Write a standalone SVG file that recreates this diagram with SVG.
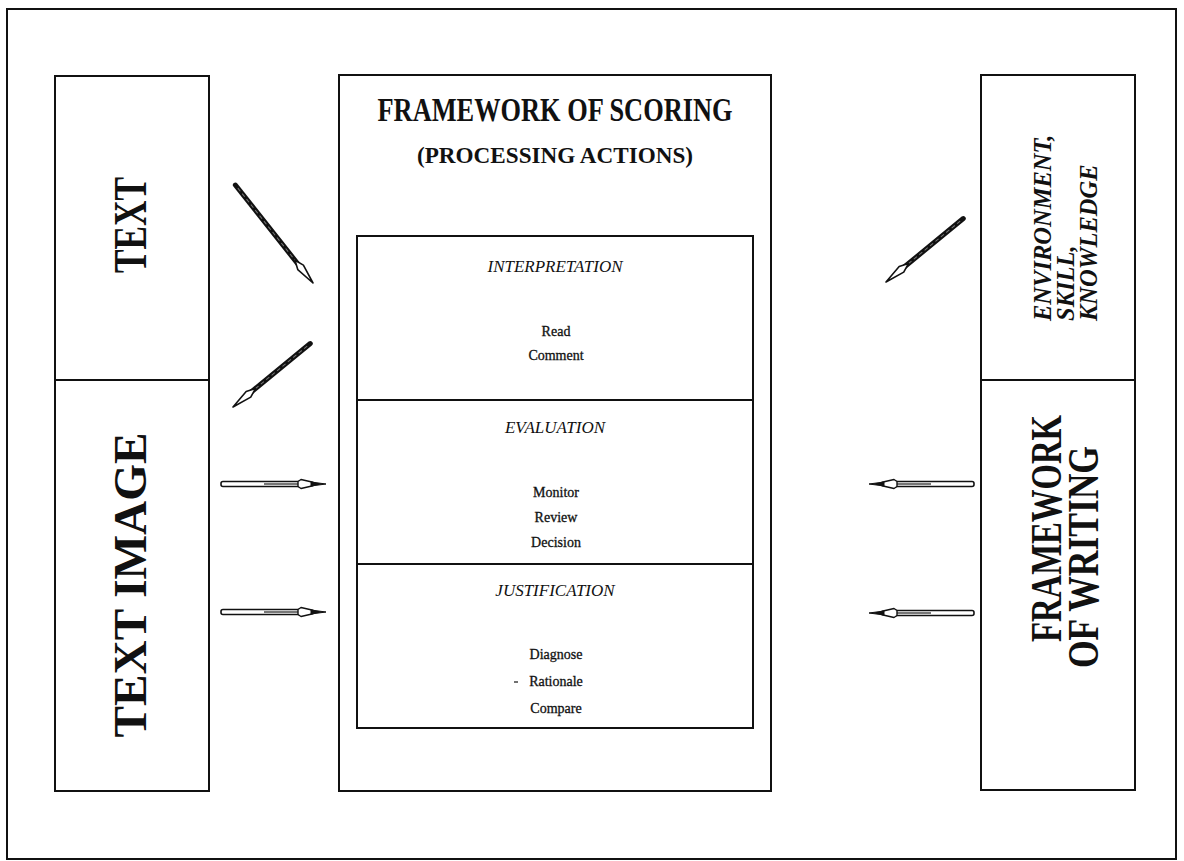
<svg xmlns="http://www.w3.org/2000/svg" xmlns:xlink="http://www.w3.org/1999/xlink" width="1184" height="861" viewBox="0 0 1184 861">
  <style>
    .frame { fill: none; stroke: #111; stroke-width: 2; }
    .box { fill: #fff; stroke: #111; stroke-width: 2; }
    .rule { stroke: #111; stroke-width: 1.8; }
    .serif { font-family: "Liberation Serif", "Times New Roman", serif; fill: #111; }
    .title { font-weight: bold; font-size: 33px; }
    .subtitle { font-weight: bold; font-size: 24px; }
    .big { font-weight: bold; font-size: 47px; }
    .side { font-weight: bold; font-size: 45px; }
    .ital { font-weight: bold; font-style: italic; font-size: 24.5px; }
    .phase { font-style: italic; font-size: 17px; }
    .item { font-size: 14px; stroke: #111; stroke-width: 0.3; }
  </style>
  <defs>
    <!-- pen-shaped arrow, tip at origin, pointing along +x -->
    <g id="pen">
      <line x1="-100" y1="0" x2="-24" y2="0" stroke="#111" stroke-width="5" stroke-linecap="round"/>
      <line x1="-96" y1="0" x2="-28" y2="0" stroke="#777" stroke-width="1" stroke-dasharray="4 3"/>
      <path d="M -29,0 L -20,-3.6 L 0,0 L -20,3.6 Z" fill="#fff" stroke="#111" stroke-width="1.6" stroke-linejoin="round"/>
    </g>
    <!-- longer variant of the pen arrow -->
    <g id="pen-long">
      <line x1="-125" y1="0" x2="-24" y2="0" stroke="#111" stroke-width="5" stroke-linecap="round"/>
      <line x1="-121" y1="0" x2="-28" y2="0" stroke="#777" stroke-width="1" stroke-dasharray="4 3"/>
      <path d="M -29,0 L -20,-3.6 L 0,0 L -20,3.6 Z" fill="#fff" stroke="#111" stroke-width="1.6" stroke-linejoin="round"/>
    </g>
    <!-- hollow dart arrow, tip at origin, pointing along +x -->
    <g id="dart">
      <rect x="-105" y="-2.5" width="80" height="5" rx="2" fill="#fff" stroke="#111" stroke-width="1.6"/>
      <line x1="-62" y1="0" x2="-27" y2="0" stroke="#777" stroke-width="2"/>
      <path d="M -28,-2.5 L -25,-4.5 L -13,-1.8 L -13,1.8 L -25,4.5 L -28,2.5 Z" fill="#fff" stroke="#111" stroke-width="1.4" stroke-linejoin="round"/>
      <path d="M -15,-2 L 0,0 L -15,2 Z" fill="#111" stroke="#111" stroke-width="1"/>
    </g>
  </defs>

  <rect width="1184" height="861" fill="#fff"/>
  <rect class="frame" x="7" y="9" width="1169" height="850"/>

  <!-- left column: text / text image -->
  <g id="text">
    <rect class="box" x="55" y="76" width="154" height="304"/>
    <text class="serif big" transform="translate(146,225) rotate(-90)" text-anchor="middle" textLength="96" lengthAdjust="spacingAndGlyphs">TEXT</text>
  </g>
  <g id="text-image">
    <rect class="box" x="55" y="380" width="154" height="411"/>
    <text class="serif big" transform="translate(146,585) rotate(-90)" text-anchor="middle" textLength="305" lengthAdjust="spacingAndGlyphs">TEXT IMAGE</text>
  </g>

  <!-- centre: framework of scoring -->
  <g id="framework-of-scoring">
    <rect class="box" x="339" y="75" width="432" height="716"/>
    <text class="serif title" x="555" y="121" text-anchor="middle" textLength="355" lengthAdjust="spacingAndGlyphs">FRAMEWORK OF SCORING</text>
    <text class="serif subtitle" x="555" y="163" text-anchor="middle" textLength="276" lengthAdjust="spacingAndGlyphs">(PROCESSING ACTIONS)</text>
    <rect class="box" x="357" y="236" width="396" height="492"/>
    <line class="rule" x1="357" y1="400" x2="753" y2="400"/>
    <line class="rule" x1="357" y1="564" x2="753" y2="564"/>
  </g>
  <g id="interpretation">
    <text class="serif phase" x="555" y="272" text-anchor="middle">INTERPRETATION</text>
    <text class="serif item" x="556" y="336" text-anchor="middle">Read</text>
    <text class="serif item" x="556" y="360" text-anchor="middle">Comment</text>
  </g>
  <g id="evaluation">
    <text class="serif phase" x="555" y="433" text-anchor="middle">EVALUATION</text>
    <text class="serif item" x="556" y="497" text-anchor="middle">Monitor</text>
    <text class="serif item" x="556" y="522" text-anchor="middle">Review</text>
    <text class="serif item" x="556" y="547" text-anchor="middle">Decision</text>
  </g>
  <g id="justification">
    <text class="serif phase" x="555" y="596" text-anchor="middle">JUSTIFICATION</text>
    <text class="serif item" x="556" y="659" text-anchor="middle">Diagnose</text>
    <line x1="514" y1="682" x2="518" y2="682" stroke="#111" stroke-width="1.2"/>
    <text class="serif item" x="556" y="686" text-anchor="middle">Rationale</text>
    <text class="serif item" x="556" y="713" text-anchor="middle">Compare</text>
  </g>

  <!-- right column: context / framework of writing -->
  <g id="environment">
    <rect class="box" x="981" y="75" width="154" height="305"/>
    <text class="serif ital" transform="translate(1051,321) rotate(-90)">ENVIRONMENT,</text>
    <text class="serif ital" transform="translate(1074,321) rotate(-90)">SKILL,</text>
    <text class="serif ital" transform="translate(1097,321) rotate(-90)">KNOWLEDGE</text>
  </g>
  <g id="framework-of-writing">
    <rect class="box" x="981" y="380" width="154" height="410"/>
    <text class="serif side" transform="translate(1061,642) rotate(-90)" textLength="227" lengthAdjust="spacingAndGlyphs">FRAMEWORK</text>
    <text class="serif side" transform="translate(1098,668) rotate(-90)" textLength="222" lengthAdjust="spacingAndGlyphs">OF WRITING</text>
  </g>

  <!-- connectors -->
  <g id="connectors">
    <use xlink:href="#pen-long" transform="translate(313,283) rotate(51.6)"/>
    <use xlink:href="#pen" transform="translate(233,407) rotate(140.6)"/>
    <use xlink:href="#pen" transform="translate(886,282) rotate(140.6)"/>
    <use xlink:href="#dart" transform="translate(326,484)"/>
    <use xlink:href="#dart" transform="translate(326,612)"/>
    <use xlink:href="#dart" transform="translate(869,484) rotate(180)"/>
    <use xlink:href="#dart" transform="translate(869,613) rotate(180)"/>
  </g>
</svg>
